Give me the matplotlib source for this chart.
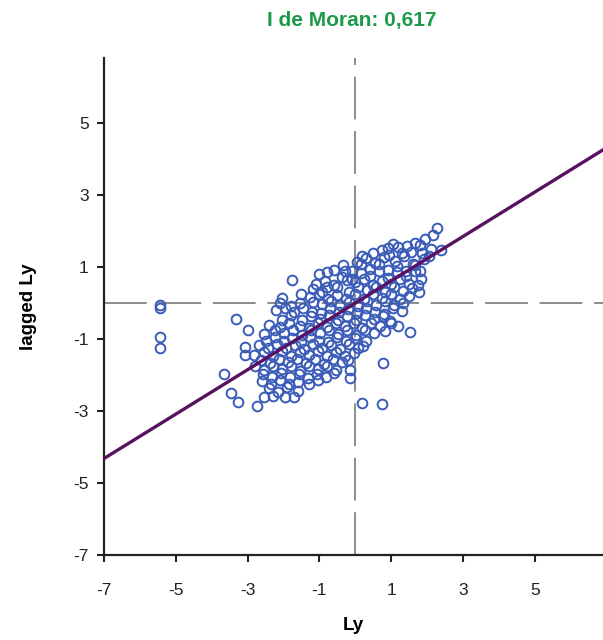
import matplotlib
matplotlib.use("Agg")
import matplotlib.pyplot as plt
import numpy as np

plt.rcParams['font.family'] = ['Liberation Sans', 'DejaVu Sans']
plt.rcParams['axes.unicode_minus'] = False

# ----------------------------------------------- data
moran_i = 0.617
title_text = "I de Moran: 0,617"
x_ticks = [-7, -5, -3, -1, 1, 3, 5]
y_ticks = [-7, -5, -3, -1, 1, 3, 5]

# standardised value (Ly) of each unit, row by row from top to bottom
ly = [
    2.28,
    2.17, 1.94,
    1.67, 1.45, 1.2, 0.92, 0.75, 1.8, 1.05,
    2.4, 2.1, 1.85, 1.55, 1.3, 0.5, 0.95, 0.2,
    0.05, 0.3, 0.55, 0.8, 1.1, 1.35, 1.6, 1.9, 2.05,
    -0.6, -0.35, -0.1, 0.15, 0.4, 0.65, 0.9, 1.15, 1.4, 1.65, 1.8,
    -1.0, -0.78, -0.28, -0.38, -0.08, 0.17, 0.42, 0.67, 0.92, 1.17, 1.42, 1.67, 1.82,
    -1.75, -1.1, -0.85, -0.22, -0.6, 0.0, 0.25, 0.5, 0.75, 1.0, 1.25, 1.5, 1.75,
    -1.18, -0.93, -0.78, -0.5, -0.18, 0.07, 0.32, 0.57, 0.82, 1.07, 1.32, 1.57, 1.77,
    -2.03, -1.25, -1.5, -1.0, -0.75, -0.5, -0.25, 0.0, 0.25, 0.5, 0.75, 1.0, 1.25, 1.5,
    -5.45, -5.45, -2.1, -1.53, -1.78, -1.18, -0.93, -0.68, -0.43, -0.18, 0.07, 0.32, 0.57, 0.82, 1.07, 1.32,
    -2.2, -1.95, -1.7, -1.45, -1.2, -0.95, -0.7, -0.45, -0.2, 0.05, 0.3, 0.55, 0.8, 1.05, 1.3,
    -3.33, -2.03, -1.78, -1.48, -1.23, -0.98, -0.73, -0.48, -0.23, 0.02, 0.27, 0.52, 0.77, 0.97,
    -2.4, -2.1, -1.85, -1.55, -1.3, -1.05, -0.8, -0.55, -0.3, -0.05, 0.2, 0.45, 0.7, 1.0, 1.2,
    -3.0, -2.53, -2.23, -1.98, -1.73, -1.48, -1.23, -0.98, -0.73, -0.48, -0.23, 0.02, 0.27, 0.52, 0.82, 1.53,
    -5.45, -2.5, -2.25, -2.0, -1.75, -1.5, -1.25, -1.0, -0.75, -0.5, -0.25, 0.0, 0.3,
    -5.45, -3.06, -2.68, -2.43, -2.18, -1.93, -1.68, -1.43, -1.18, -0.93, -0.68, -0.43, -0.18, 0.07, 0.22,
    -3.08, -2.83, -2.55, -2.3, -2.05, -1.8, -1.55, -1.3, -1.05, -0.8, -0.55, -0.3, -0.05,
    -2.63, -2.38, -2.13, -1.88, -1.63, -1.38, -1.13, -0.88, -0.63, -0.38, -0.2, 0.78,
    -2.8, -2.55, -2.3, -2.05, -1.8, -1.55, -1.3, -1.05, -0.8, -0.55, -0.14,
    -3.67, -2.58, -2.33, -2.08, -1.83, -1.58, -1.33, -1.08, -0.83, -0.6, -0.14,
    -2.6, -2.35, -2.1, -1.85, -1.6, -1.3, -1.03,
    -2.4, -2.15, -1.9, -1.6,
    -3.47, -2.55, -2.3, -1.95, -1.72,
    -3.28, -2.75, 0.19, 0.75,
]
# spatially lagged value of the same units
lagged_ly = [
    2.08,
    1.89, 1.78,
    1.67, 1.6, 1.55, 1.53, 1.47, 1.62, 1.65,
    1.47, 1.5, 1.4, 1.42, 1.38, 1.4, 1.35, 1.3,
    1.15, 1.26, 1.12, 1.28, 1.18, 1.3, 1.1, 1.22, 1.3,
    0.92, 1.06, 0.9, 1.08, 0.96, 1.1, 0.92, 1.04, 0.88, 1.06, 0.9,
    0.8, 0.86, 0.89, 0.72, 0.66, 0.84, 0.74, 0.9, 0.7, 0.86, 0.74, 0.88, 0.68,
    0.64, 0.52, 0.62, 0.64, 0.5, 0.58, 0.66, 0.5, 0.62, 0.54, 0.66, 0.52, 0.5,
    0.4, 0.3, 0.44, 0.44, 0.32, 0.46, 0.36, 0.44, 0.3, 0.46, 0.34, 0.42, 0.3,
    0.14, 0.17, 0.24, 0.26, 0.1, 0.22, 0.12, 0.26, 0.1, 0.24, 0.14, 0.26, 0.1, 0.2,
    -0.05, -0.15, 0.0, 0.0, -0.08, 0.04, -0.02, 0.06, -0.06, 0.02, -0.08, 0.05, -0.04, 0.06, -0.06, 0.0,
    -0.2, -0.14, -0.26, -0.14, -0.24, -0.28, -0.14, -0.26, -0.16, -0.28, -0.14, -0.24, -0.3, -0.14, -0.22,
    -0.44, -0.46, -0.34, -0.48, -0.36, -0.44, -0.34, -0.46, -0.36, -0.48, -0.34, -0.44, -0.36, -0.5,
    -0.6, -0.66, -0.54, -0.64, -0.68, -0.54, -0.66, -0.56, -0.64, -0.54, -0.68, -0.56, -0.64, -0.56, -0.65,
    -0.75, -0.86, -0.76, -0.84, -0.74, -0.88, -0.76, -0.84, -0.74, -0.86, -0.76, -0.88, -0.74, -0.84, -0.78, -0.8,
    -0.95, -1.04, -0.94, -1.06, -0.96, -1.08, -0.94, -1.04, -1.08, -0.94, -1.06, -0.96, -1.04,
    -1.25, -1.22, -1.16, -1.26, -1.14, -1.24, -1.16, -1.28, -1.14, -1.24, -1.16, -1.28, -1.14, -1.24, -1.18,
    -1.44, -1.44, -1.36, -1.46, -1.34, -1.48, -1.36, -1.44, -1.34, -1.46, -1.36, -1.48, -1.38,
    -1.58, -1.66, -1.54, -1.64, -1.56, -1.66, -1.54, -1.68, -1.56, -1.64, -1.58, -1.67,
    -1.76, -1.86, -1.74, -1.84, -1.76, -1.88, -1.76, -1.84, -1.74, -1.86, -1.86,
    -1.97, -1.96, -2.06, -1.94, -2.04, -1.96, -2.08, -1.96, -2.04, -1.94, -2.08,
    -2.16, -2.26, -2.14, -2.24, -2.18, -2.26, -2.14,
    -2.36, -2.46, -2.34, -2.44,
    -2.5, -2.6, -2.58, -2.62, -2.61,
    -2.75, -2.86, -2.78, -2.8,
]
#-----------------------------------------------
fig = plt.figure(figsize=(6.03, 6.4), dpi=100)
ax = fig.add_axes([0.1725, 0.1328, 0.8275, 0.776])

ax.axhline(0, color='#8c8c8c', lw=1.4, linestyle=(0, (22, 6)), zorder=1)
ax.axvline(0, color='#8c8c8c', lw=1.4, linestyle=(0, (22, 6)), zorder=1)

ax.plot(ly, lagged_ly, linestyle='none', marker='o', markersize=7,
        markerfacecolor='none', markeredgecolor='#3a5cb8', markeredgewidth=1.4, zorder=2)

# regression line, slope = Moran's I
xs = np.array([-7, 7])
ax.plot(xs, moran_i * xs, color='#5a1163', lw=2.4, zorder=3)

ax.set_xlim(-7, 6.9)
ax.set_ylim(-7, 6.8)
ax.set_xticks(x_ticks)
ax.set_yticks(y_ticks)
ax.tick_params(direction='out', length=5, width=1.5, labelsize=12.5, colors='#222222')
ax.tick_params(axis='x', pad=15)
ax.tick_params(axis='y', pad=6)
for s in ['top', 'right']:
    ax.spines[s].set_visible(False)
for s in ['left', 'bottom']:
    ax.spines[s].set_linewidth(1.6)
    ax.spines[s].set_color('#222222')

ax.set_xlabel('Ly', fontsize=13.5, fontweight='bold', labelpad=14)
ax.set_ylabel('lagged Ly', fontsize=13.5, fontweight='bold', labelpad=26)
fig.text(0.584, 0.968, title_text, ha='center', va='center', color='#1c9a4a',
         fontsize=15, fontweight='bold')

fig.savefig('out.png', dpi=100)
